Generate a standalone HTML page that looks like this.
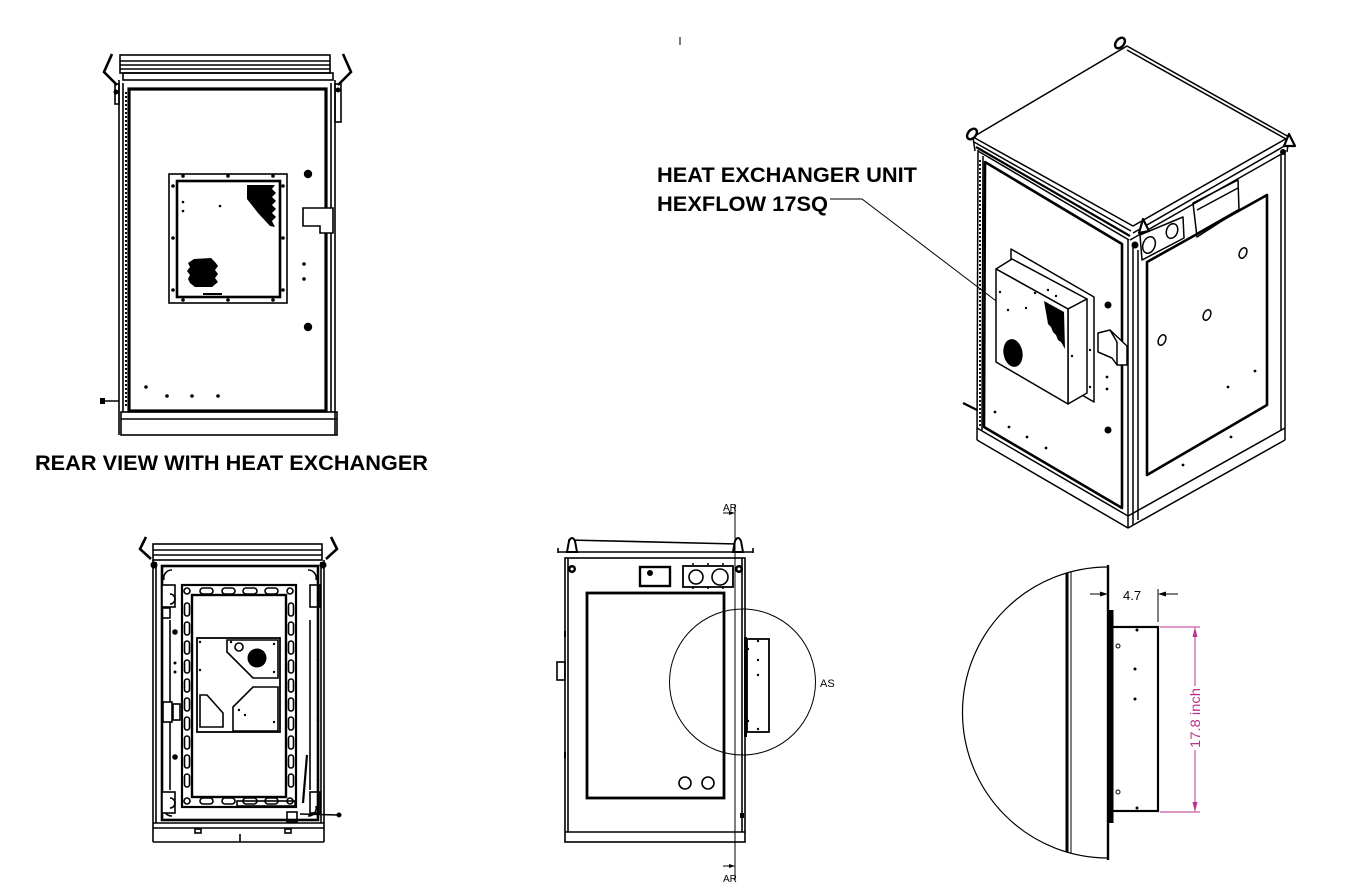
<!DOCTYPE html>
<html><head><meta charset="utf-8"><style>
html,body{margin:0;padding:0;background:#fff;width:1350px;height:892px;overflow:hidden}
svg{display:block}
text{font-family:"Liberation Sans",Arial,sans-serif}
</style></head><body>
<svg width="1350" height="892" viewBox="0 0 1350 892" xmlns="http://www.w3.org/2000/svg">

<!-- ============ TOP-LEFT REAR VIEW ============ -->
<g fill="none" stroke="#000" stroke-width="1.6">
  <rect x="120" y="55" width="210" height="18"/>
  <line x1="120" y1="61" x2="330" y2="61"/>
  <line x1="120" y1="65" x2="330" y2="65"/>
  <line x1="120" y1="69" x2="330" y2="69"/>
  <rect x="123" y="73" width="210" height="7"/>
  <polyline points="112,54 104,72 117,85" stroke-width="2.6"/>
  <polyline points="343,54 351,72 338,85" stroke-width="2.6"/>
  <line x1="119" y1="80" x2="119" y2="435"/>
  <line x1="123" y1="83" x2="123" y2="412"/>
  <line x1="335" y1="80" x2="335" y2="435"/>
  <line x1="331" y1="83" x2="331" y2="412"/>
  <rect x="121" y="412" width="216" height="23"/>
  <line x1="121" y1="419" x2="337" y2="419"/>
  <rect x="129" y="89" width="197" height="322" stroke-width="3.2"/>
  <line x1="126" y1="92" x2="126" y2="408" stroke-dasharray="2 2" stroke-width="2"/>
  <rect x="115" y="84" width="4" height="20"/>
  <rect x="335" y="84" width="6" height="38"/>
  <!-- exchanger -->
  <rect x="169" y="174" width="118" height="129"/>
  <rect x="177" y="181" width="103" height="116" stroke-width="2.6"/>
  <line x1="203" y1="294" x2="222" y2="294" stroke-width="2"/>
  <!-- latch -->
  <polygon points="303,208 333,208 333,233 320,233 320,226 303,226" fill="#fff"/>
  <line x1="101" y1="401" x2="119" y2="401"/>
</g>
<g fill="#000">
  <rect x="100" y="398" width="5" height="6"/>
  <circle cx="116" cy="92" r="2.5"/>
  <circle cx="338" cy="90" r="2.5"/>
  <circle cx="183" cy="176" r="1.8"/><circle cx="228" cy="176" r="1.8"/><circle cx="273" cy="176" r="1.8"/>
  <circle cx="183" cy="300" r="1.8"/><circle cx="228" cy="300" r="1.8"/><circle cx="273" cy="300" r="1.8"/>
  <circle cx="173" cy="186" r="1.8"/><circle cx="173" cy="238" r="1.8"/><circle cx="173" cy="290" r="1.8"/>
  <circle cx="283" cy="186" r="1.8"/><circle cx="283" cy="238" r="1.8"/><circle cx="283" cy="290" r="1.8"/>
  <circle cx="183" cy="202" r="1.3"/><circle cx="183" cy="211" r="1.3"/><circle cx="220" cy="206" r="1.3"/>
  <polygon points="247,185 275,185 272,189 276,193 272,197 276,201 272,205 276,209 272,213 276,217 272,221 275,227 270,226 258,213 247,199"/>
  <polygon points="194,259 211,258 215,262 218,266 215,270 218,274 215,278 218,282 212,287 195,287 190,283 188,279 190,275 187,271 190,267 188,263"/>
  <circle cx="308" cy="174" r="4.2"/>
  <circle cx="308" cy="327" r="4.2"/>
  <circle cx="304" cy="264" r="1.8"/><circle cx="304" cy="279" r="1.8"/>
  <circle cx="146" cy="387" r="1.8"/><circle cx="167" cy="396" r="1.8"/><circle cx="192" cy="396" r="1.8"/><circle cx="218" cy="396" r="1.8"/>
</g>
<text x="35" y="470" font-size="21.6" font-weight="bold" textLength="393" lengthAdjust="spacingAndGlyphs">REAR VIEW WITH HEAT EXCHANGER</text>

<!-- small I mark -->
<line x1="680" y1="37" x2="680" y2="45" stroke="#000" stroke-width="1"/>

<!-- ============ LABEL + LEADER ============ -->
<text x="657" y="182" font-size="21.7" font-weight="bold" textLength="260" lengthAdjust="spacingAndGlyphs">HEAT EXCHANGER UNIT</text>
<text x="657" y="211" font-size="21.7" font-weight="bold" textLength="171" lengthAdjust="spacingAndGlyphs">HEXFLOW 17SQ</text>
<polyline points="830,199 862,199 1008,310" fill="none" stroke="#000" stroke-width="1"/>

<!-- ============ ISO VIEW ============ -->
<g fill="none" stroke="#000" stroke-width="1.5" stroke-linejoin="round">
  <polygon points="1127,46 1289,137 1133,226 973,137" fill="#fff"/>
  <line x1="1127" y1="50" x2="1286" y2="139"/>
  <line x1="974" y1="142" x2="1131" y2="231"/>
  <line x1="976" y1="147" x2="1130" y2="236" stroke-width="2.2"/>
  <line x1="978" y1="151" x2="1129" y2="240"/>
  <line x1="1133" y1="233" x2="1288" y2="144"/>
  <line x1="1130" y1="240" x2="1285" y2="152"/>
  <line x1="973" y1="137" x2="975" y2="151"/>
  <line x1="1289" y1="137" x2="1287" y2="152"/>
  <!-- body -->
  <line x1="978" y1="150" x2="977" y2="440"/>
  <line x1="983" y1="156" x2="982" y2="430"/>
  <line x1="1128" y1="240" x2="1128" y2="528"/>
  <line x1="1133" y1="243" x2="1133" y2="525"/>
  <line x1="1138" y1="250" x2="1138" y2="520"/>
  <line x1="1285" y1="150" x2="1285" y2="440"/>
  <line x1="1281" y1="155" x2="1281" y2="430"/>
  <polyline points="977,440 1128,528 1285,440"/>
  <polyline points="977,428 1128,516 1285,428"/>
  <polygon points="985,162 1122,244 1122,508 984,427" stroke-width="2.6"/>
  <line x1="980" y1="160" x2="980" y2="428" stroke-dasharray="2 2" stroke-width="1.8"/>
  <!-- right face -->
  <polygon points="1147,262 1267,195 1267,405 1147,475" stroke-width="2.6"/>
  <polygon points="1140,235 1183,217 1184,238 1142,260" fill="#fff"/>
  <ellipse cx="1149" cy="245" rx="6" ry="8.5" transform="rotate(20 1149 245)"/>
  <ellipse cx="1172" cy="231" rx="5.5" ry="7.5" transform="rotate(20 1172 231)"/>
  <polygon points="1193,203 1238,180 1239,210 1197,237"/>
  <line x1="1197" y1="210" x2="1238" y2="188"/>
  <line x1="1197" y1="234" x2="1239" y2="210" stroke-width="2.6"/>
  <ellipse cx="1243" cy="253" rx="3.5" ry="5.5" transform="rotate(25 1243 253)"/>
  <ellipse cx="1207" cy="315" rx="3.5" ry="5.5" transform="rotate(25 1207 315)"/>
  <ellipse cx="1162" cy="340" rx="3.5" ry="5.5" transform="rotate(25 1162 340)"/>
  <!-- eyes -->
  <ellipse cx="1120" cy="43" rx="4" ry="6" transform="rotate(40 1120 43)" fill="#fff" stroke-width="2.4"/>
  <ellipse cx="972" cy="134" rx="4" ry="6" transform="rotate(40 972 134)" fill="#fff" stroke-width="2.4"/>
  <path d="M1284,146 L1289,134 L1295,146 Z" fill="#fff" stroke-width="2.2"/>
  <path d="M1139,233 L1143,219 L1149,231 Z" fill="#fff" stroke-width="2.2"/>
  <!-- exchanger -->
  <polygon points="1011,249 1094,297 1094,402 1011,354" fill="#fff"/>
  <polygon points="996,269 1012,259 1087,299 1068,309" fill="#fff"/>
  <polygon points="1068,309 1087,299 1087,393 1068,404" fill="#fff"/>
  <polygon points="996,269 1068,309 1068,404 996,362" fill="#fff"/>
  <!-- latch -->
  <polygon points="1098,333 1110,330 1127,346 1127,365 1117,365 1112,358 1098,352" fill="#fff"/>
  <line x1="1110" y1="330" x2="1117" y2="342"/>
  <line x1="1117" y1="342" x2="1117" y2="365"/>
  <line x1="963" y1="403" x2="977" y2="410" stroke-width="2.2"/>
</g>
<g fill="#000">
  <circle cx="1135" cy="245" r="3.5"/>
  <circle cx="1283" cy="152" r="3"/>
  <polygon points="1044,301 1064,312 1065,349 1061,342 1058,340 1056,335 1053,332 1051,327 1048,324 1047,318"/>
  <ellipse cx="1013" cy="353" rx="9.5" ry="14" transform="rotate(-10 1013 353)"/>
  <circle cx="1108" cy="305" r="3.5"/><circle cx="1108" cy="430" r="3.5"/>
  <circle cx="1008" cy="310" r="1.2"/><circle cx="1026" cy="308" r="1.2"/><circle cx="1000" cy="292" r="1.2"/>
  <circle cx="1035" cy="293" r="1.2"/><circle cx="1048" cy="290" r="1.2"/><circle cx="1056" cy="296" r="1.2"/>
  <circle cx="1072" cy="356" r="1.2"/><circle cx="1090" cy="350" r="1.2"/><circle cx="1090" cy="387" r="1.2"/>
  <circle cx="1107" cy="377" r="1.4"/><circle cx="1107" cy="389" r="1.4"/>
  <circle cx="995" cy="412" r="1.4"/><circle cx="1009" cy="427" r="1.4"/><circle cx="1027" cy="437" r="1.4"/><circle cx="1046" cy="448" r="1.4"/>
  <circle cx="1255" cy="371" r="1.4"/><circle cx="1228" cy="387" r="1.4"/><circle cx="1231" cy="437" r="1.4"/><circle cx="1183" cy="465" r="1.4"/>
</g>

<!-- ============ BOTTOM-LEFT VIEW ============ -->
<g fill="none" stroke="#000" stroke-width="1.6">
  <rect x="153" y="544" width="169" height="16"/>
  <line x1="153" y1="550" x2="322" y2="550"/>
  <line x1="153" y1="555" x2="322" y2="555"/>
  <polyline points="146,537 140,549 151,559" stroke-width="2.6"/>
  <polyline points="331,537 337,549 326,559" stroke-width="2.6"/>
  <line x1="153" y1="560" x2="153" y2="842"/>
  <line x1="156" y1="562" x2="156" y2="823"/>
  <line x1="324" y1="560" x2="324" y2="842"/>
  <line x1="321" y1="562" x2="321" y2="823"/>
  <line x1="153" y1="823" x2="324" y2="823"/>
  <line x1="153" y1="828" x2="324" y2="828"/>
  <line x1="153" y1="842" x2="324" y2="842"/>
  <line x1="240" y1="834" x2="240" y2="842"/>
  <rect x="162" y="566" width="156" height="254" stroke-width="2.6"/>
  <line x1="170" y1="620" x2="170" y2="790"/>
  <line x1="310" y1="620" x2="310" y2="790"/>
  <path d="M164,580 A8,8 0 0 1 172,570"/><path d="M316,580 A8,8 0 0 0 308,570"/>
  <path d="M164,806 A8,8 0 0 0 172,816"/><path d="M316,806 A8,8 0 0 1 308,816"/>
  <rect x="182" y="585" width="114" height="222" stroke-width="2.2"/>
  <rect x="192" y="595" width="94" height="202" stroke-width="2.4"/>
  <!-- hinge pieces -->
  <rect x="162" y="585" width="13" height="22" fill="#fff"/>
  <rect x="162" y="608" width="8" height="10"/>
  <rect x="163" y="702" width="9" height="20" fill="#fff"/>
  <rect x="173" y="704" width="7" height="16"/>
  <rect x="162" y="792" width="13" height="21" fill="#fff"/>
  <rect x="310" y="585" width="10" height="22"/>
  <rect x="310" y="792" width="10" height="21"/>
  <path d="M170,594 A5,5 0 0 1 170,604"/><path d="M170,798 A5,5 0 0 1 170,808"/>
  <!-- slots top/bottom -->
  <circle cx="187" cy="591" r="3"/><circle cx="290" cy="591" r="3"/>
  <circle cx="187" cy="801" r="3"/><circle cx="290" cy="801" r="3"/>
  <rect x="200" y="588" width="13" height="6" rx="3"/><rect x="222" y="588" width="13" height="6" rx="3"/>
  <rect x="243" y="588" width="14" height="6" rx="3"/><rect x="265" y="588" width="13" height="6" rx="3"/>
  <rect x="200" y="798" width="13" height="6" rx="3"/><rect x="222" y="798" width="13" height="6" rx="3"/>
  <rect x="243" y="798" width="14" height="6" rx="3"/><rect x="265" y="798" width="13" height="6" rx="3"/>
  <!-- side slots -->
  <g>
    <rect x="184.5" y="603" width="5" height="13" rx="2.5"/><rect x="184.5" y="622" width="5" height="13" rx="2.5"/>
    <rect x="184.5" y="641" width="5" height="13" rx="2.5"/><rect x="184.5" y="660" width="5" height="13" rx="2.5"/>
    <rect x="184.5" y="679" width="5" height="13" rx="2.5"/><rect x="184.5" y="698" width="5" height="13" rx="2.5"/>
    <rect x="184.5" y="717" width="5" height="13" rx="2.5"/><rect x="184.5" y="736" width="5" height="13" rx="2.5"/>
    <rect x="184.5" y="755" width="5" height="13" rx="2.5"/><rect x="184.5" y="774" width="5" height="13" rx="2.5"/>
    <rect x="288.5" y="603" width="5" height="13" rx="2.5"/><rect x="288.5" y="622" width="5" height="13" rx="2.5"/>
    <rect x="288.5" y="641" width="5" height="13" rx="2.5"/><rect x="288.5" y="660" width="5" height="13" rx="2.5"/>
    <rect x="288.5" y="679" width="5" height="13" rx="2.5"/><rect x="288.5" y="698" width="5" height="13" rx="2.5"/>
    <rect x="288.5" y="717" width="5" height="13" rx="2.5"/><rect x="288.5" y="736" width="5" height="13" rx="2.5"/>
    <rect x="288.5" y="755" width="5" height="13" rx="2.5"/><rect x="288.5" y="774" width="5" height="13" rx="2.5"/>
  </g>
  <!-- centre plate -->
  <rect x="197" y="638" width="83" height="94" stroke-width="1.8"/>
  <polygon points="227,640 278,640 278,678 253,678 227,652"/>
  <circle cx="239" cy="647" r="4"/>
  <polygon points="253,687 278,687 278,731 233,731 233,707"/>
  <polygon points="200,695 207,695 223,713 223,727 200,727"/>
  <rect x="237" y="801" width="58" height="5"/>
  <line x1="307" y1="755" x2="303" y2="803" stroke-width="2.2"/>
  <line x1="300" y1="814" x2="338" y2="815"/>
  <rect x="195" y="829" width="6" height="4"/><rect x="285" y="829" width="6" height="4"/>
  <rect x="287" y="812" width="10" height="10"/>
</g>
<g fill="#000">
  <circle cx="154" cy="565" r="3.5"/><circle cx="323" cy="565" r="3.5"/>
  <circle cx="257" cy="658" r="9.5"/>
  <circle cx="175" cy="632" r="2.8"/><circle cx="175" cy="757" r="2.8"/>
  <circle cx="175" cy="663" r="1.5"/><circle cx="175" cy="672" r="1.5"/>
  <circle cx="339" cy="815" r="2.5"/>
  <circle cx="231" cy="642" r="1.2"/><circle cx="274" cy="644" r="1.2"/><circle cx="274" cy="672" r="1.2"/>
  <circle cx="239" cy="710" r="1.2"/><circle cx="245" cy="715" r="1.2"/><circle cx="274" cy="722" r="1.2"/>
  <circle cx="200" cy="642" r="1.2"/><circle cx="200" cy="670" r="1.2"/>
  <circle cx="318" cy="600" r="1.3"/><circle cx="318" cy="660" r="1.3"/><circle cx="318" cy="720" r="1.3"/><circle cx="318" cy="780" r="1.3"/>
</g>

<!-- ============ SIDE VIEW ============ -->
<g fill="none" stroke="#000" stroke-width="1.6">
  <rect x="565" y="558" width="180" height="284"/>
  <line x1="568" y1="558" x2="568" y2="832"/>
  <line x1="742" y1="558" x2="742" y2="832"/>
  <line x1="565" y1="832" x2="745" y2="832"/>
  <line x1="568" y1="540" x2="737" y2="544"/>
  <line x1="558" y1="552" x2="753" y2="552"/>
  <line x1="558" y1="548" x2="558" y2="553"/>
  <line x1="753" y1="548" x2="753" y2="553"/>
  <path d="M567,552 L569,541 Q572,535 575,541 L577,552 Z" fill="#fff" stroke-width="2"/>
  <path d="M733,552 L735,541 Q738,535 741,541 L743,552 Z" fill="#fff" stroke-width="2"/>
  <rect x="640" y="567" width="30" height="19" stroke-width="2.4"/>
  <rect x="683" y="566" width="50" height="21" stroke-width="1.8"/>
  <circle cx="696" cy="577" r="7"/>
  <circle cx="720" cy="577" r="8"/>
  <rect x="587" y="593" width="137" height="205" stroke-width="2.8"/>
  <circle cx="685" cy="783" r="6"/>
  <circle cx="708" cy="783" r="6"/>
  <rect x="557" y="662" width="8" height="18"/>
  <rect x="747" y="639" width="22" height="93" stroke-width="1.8"/>
  <circle cx="742.5" cy="682" r="73" stroke-width="1"/>
</g>
<g fill="#000">
  <circle cx="572" cy="569" r="4"/><circle cx="739" cy="569" r="4"/>
  <circle cx="572" cy="569" r="1.5" fill="#fff"/><circle cx="739" cy="569" r="1.5" fill="#fff"/>
  <circle cx="650" cy="573" r="3"/>
  <rect x="744" y="637" width="3" height="100"/>
  <rect x="564" y="631" width="2" height="6"/><rect x="564" y="752" width="2" height="6"/>
  <rect x="740" y="813" width="4" height="5"/>
  <circle cx="758" cy="641" r="1.2"/><circle cx="758" cy="660" r="1.2"/><circle cx="758" cy="675" r="1.2"/>
  <circle cx="748" cy="649" r="1.2"/><circle cx="748" cy="721" r="1.2"/><circle cx="758" cy="729" r="1.2"/>
  <circle cx="693" cy="564" r="1"/><circle cx="708" cy="564" r="1"/><circle cx="723" cy="564" r="1"/>
  <circle cx="693" cy="588" r="1"/><circle cx="708" cy="588" r="1"/><circle cx="723" cy="588" r="1"/>
</g>
<!-- AR section line -->
<g stroke="#000" stroke-width="1" fill="none">
  <line x1="735" y1="505" x2="735" y2="880"/>
  <line x1="723" y1="513" x2="734" y2="513"/>
  <line x1="723" y1="866" x2="734" y2="866"/>
</g>
<polygon points="735,513 729,511 729,515" fill="#000"/>
<polygon points="735,866 729,864 729,868" fill="#000"/>
<text x="723" y="511" font-size="10">AR</text>
<text x="723" y="882" font-size="10">AR</text>
<text x="820" y="687" font-size="11">AS</text>

<!-- ============ DETAIL VIEW ============ -->
<g fill="none" stroke="#000">
  <path d="M1108,567 A145,145 0 0 0 1108,858" stroke-width="1.2"/>
  <line x1="1067" y1="573" x2="1067" y2="852" stroke-width="3"/>
  <line x1="1071" y1="572" x2="1071" y2="853" stroke-width="1"/>
  <line x1="1108" y1="565" x2="1108" y2="860" stroke-width="2.4"/>
  <rect x="1112" y="627" width="46" height="184" stroke-width="2.2"/>
  <circle cx="1118" cy="646" r="2" stroke-width="1"/>
  <circle cx="1118" cy="792" r="2" stroke-width="1"/>
  <line x1="1158" y1="589" x2="1158" y2="622" stroke-width="1"/>
  <line x1="1090" y1="594" x2="1106" y2="594" stroke-width="1"/>
  <line x1="1160" y1="594" x2="1178" y2="594" stroke-width="1"/>
</g>
<g fill="#000">
  <rect x="1109" y="610" width="4.5" height="213"/>
  <circle cx="1137" cy="630" r="1.5"/><circle cx="1135" cy="669" r="1.5"/>
  <circle cx="1135" cy="699" r="1.5"/><circle cx="1137" cy="808" r="1.5"/>
  <polygon points="1108,594 1100,591.5 1100,596.5"/>
  <polygon points="1158,594 1166,591.5 1166,596.5"/>
</g>
<text x="1123" y="600" font-size="13">4.7</text>
<g stroke="#b8338c" stroke-width="1" fill="none">
  <line x1="1160" y1="627" x2="1200" y2="627"/>
  <line x1="1160" y1="812" x2="1200" y2="812"/>
  <line x1="1195" y1="628" x2="1195" y2="686"/>
  <line x1="1195" y1="750" x2="1195" y2="811"/>
</g>
<polygon points="1195,627 1192.5,637 1197.5,637" fill="#b8338c"/>
<polygon points="1195,812 1192.5,802 1197.5,802" fill="#b8338c"/>
<text x="0" y="0" font-size="14" fill="#b8338c" text-anchor="middle" transform="translate(1200,718) rotate(-90)" textLength="60" lengthAdjust="spacingAndGlyphs">17.8 inch</text>

</svg>
</body></html>
